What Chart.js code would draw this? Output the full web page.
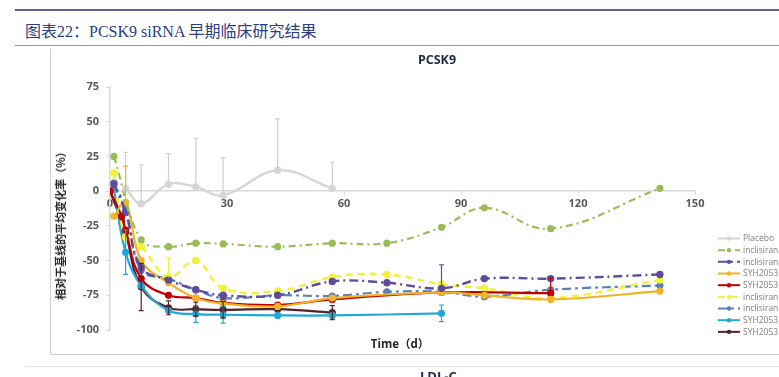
<!doctype html>
<html lang="zh">
<head>
<meta charset="utf-8"/>
<title>PCSK9 siRNA 早期临床研究结果</title>
<script src="https://cdn.jsdelivr.net/npm/chart.js@4/dist/chart.umd.min.js"></script>
<style>
*{box-sizing:border-box}
html,body{margin:0;width:779px;height:377px;overflow:hidden;background:#fff}
body{position:relative;font-family:"Open Sans","Noto Sans CJK SC",sans-serif}
.rule1{position:absolute;left:15px;right:0;top:9px;height:2px;background:#5c6296}
.rule2{position:absolute;left:15px;right:0;top:45px;height:1px;background:#8d92c9}
.head{position:absolute;left:25px;top:18px;font-size:16px;font-family:"Liberation Serif","Noto Sans CJK SC",serif;color:#2e3d80;white-space:nowrap}
.vline{position:absolute;left:50px;top:48px;width:1px;height:306px;background:#cfcfcf}
.hline{position:absolute;left:50px;right:0;top:354px;height:1px;background:#cfcfcf}
.hline2{position:absolute;left:25px;right:0;top:366px;height:1px;background:#e2e2e2}
#wrap{position:absolute;left:50px;top:48px;width:729px;height:306px}
.ctitle{position:absolute;left:387px;width:100px;top:51px;text-align:center;font-weight:bold;font-size:12.5px;color:#1f2a44}
.ytitle{position:absolute;left:60px;top:223px;transform:translate(-50%,-50%) rotate(-90deg);font-weight:bold;font-size:11px;color:#262626;white-space:nowrap;font-family:"Noto Sans CJK SC",sans-serif}
.xtitle{position:absolute;left:400px;top:343px;transform:translate(-50%,-50%);font-weight:bold;font-size:11.5px;color:#262626;white-space:nowrap;font-family:"Open Sans","Noto Sans CJK SC",sans-serif}
.next{position:absolute;left:420px;top:367px;font-weight:bold;font-size:13px;color:#1f2a44}
</style>
</head>
<body>
<div class="rule1"></div>
<div class="head">图表22：PCSK9 siRNA 早期临床研究结果</div>
<div class="rule2"></div>
<div class="vline"></div>
<div class="hline"></div>
<div class="hline2"></div>
<div id="wrap"><canvas id="c" width="729" height="306"></canvas></div>
<div class="ctitle">PCSK9</div>
<div class="ytitle">相对于基线的平均变化率（%）</div>
<div class="xtitle">Time（d）</div>
<div class="next">LDL-C</div>
<script>
// x ticks / y ticks
const xTicks = [0, 30, 60, 90, 120, 150];
const yTicks = [-100, -75, -50, -25, 0, 25, 50, 75];

// series (day, % change); err entries are [down, up]
const placeboDays = [4, 8, 15, 22, 29, 43, 57];
const placeboVals = [2, -9, 5, 3, -3, 15, 2];
const placeboErr  = [[0,26],[0,28],[0,22],[0,35],[0,27],[0,37],[0,19]];

const inclGreenDays = [1, 8, 15, 22, 29, 43, 57, 71, 85, 96, 113, 141];
const inclGreenVals = [25, -35, -40, -37.5, -38, -40, -37.5, -37.5, -26, -12, -27, 2];

const inclPurpleDays = [1, 4, 8, 15, 22, 29, 43, 57, 71, 85, 96, 113, 141];
const inclPurpleVals = [5, -15, -55, -64, -71, -75, -75, -65, -66, -70, -63, -63, -60];
const inclPurpleErr  = [null,null,null,null,null,null,null,null,null,[0,17],null,null,null];

const syhGoldDays = [1, 4, 8, 15, 22, 29, 43, 57, 85, 96, 113, 141];
const syhGoldVals = [-18, -8, -50, -66, -77, -81, -83, -77, -73, -75, -78, -72];
const syhGoldErr  = [null,[0,26],null,null,null,null,null,null,null,null,null,null];

const syhRedDays = [0, 3, 4, 8, 15, 22, 29, 43, 57, 85, 113];
const syhRedVals = [0, -18, -28, -63, -75, -77, -80.5, -82, -78, -73, -73.5];
const syhRedErr  = [null,null,null,null,null,null,null,null,null,null,[0,11]];

const inclYellowDays = [1, 4, 8, 15, 22, 29, 43, 57, 71, 85, 96, 113, 141];
const inclYellowVals = [13, -33, -40, -62, -50, -70, -72, -62, -60, -67, -70, -77, -64];
const inclYellowErr  = [null,null,null,[0,14],null,null,null,null,null,null,null,null,null];

const inclBlueDays = [1, 4, 8, 15, 22, 29, 43, 57, 71, 85, 96, 113, 141];
const inclBlueVals = [6, -12, -57, -63, -71, -77, -75, -75.5, -72.5, -72.5, -76, -71, -68];

const syhCyanDays = [1, 4, 8, 15, 22, 29, 43, 57, 85];
const syhCyanVals = [2, -44, -68, -86, -88.5, -89, -89.5, -89.5, -88];
const syhCyanErr  = [null,[16,16],null,null,[6,6],[6,6],null,null,[6,6]];

const syhBrownDays = [0, 3, 4, 8, 15, 22, 29, 43, 57];
const syhBrownVals = [0, -22, -30, -69, -84, -85, -85.5, -85, -87.5];
const syhBrownErr  = [null,null,null,[17,17],[5,5],[5,5],[6,6],null,[5,5]];

function pts(days, vals){ return days.map((d,i)=>({x:d, y:vals[i]})); }
function series(label, days, vals, color, dash, err, width){
  return {
    label, data: pts(days, vals), err: err || null,
    borderColor: color, backgroundColor: color,
    pointBackgroundColor: color, pointBorderColor: color,
    pointRadius: 2.5, pointHoverRadius: 2.5,
    borderWidth: width || 2.2, borderDash: dash || [],
    tension: 0.4, fill: false
  };
}

const datasets = [
  series('Placebo', placeboDays, placeboVals, '#d6d6d6', [], placeboErr, 2.4),
  series('inclisiran', inclGreenDays, inclGreenVals, '#9bbb59', [7,4,2,4]),
  series('inclisiran', inclPurpleDays, inclPurpleVals, '#5f4b9b', [9,4,2,4], inclPurpleErr, 2.4),
  series('SYH2053', syhGoldDays, syhGoldVals, '#f0b428', [], syhGoldErr),
  series('SYH2053', syhRedDays, syhRedVals, '#c00000', [], syhRedErr),
  series('inclisiran', inclYellowDays, inclYellowVals, '#f2f23c', [7,5], inclYellowErr, 2.5),
  series('inclisiran', inclBlueDays, inclBlueVals, '#5b7fb6', [9,4,3,4]),
  series('SYH2053', syhCyanDays, syhCyanVals, '#22a7d6', [], syhCyanErr),
  series('SYH2053', syhBrownDays, syhBrownVals, '#55222a', [], syhBrownErr)
];

const errorBars = {
  id: 'errorBars',
  afterDatasetsDraw(chart){
    const ctx = chart.ctx, xs = chart.scales.x, ys = chart.scales.y;
    chart.data.datasets.forEach(ds => {
      if (!ds.err) return;
      ctx.save();
      ctx.strokeStyle = ds.borderColor === '#d6d6d6' ? '#d0d0d0' : ds.borderColor;
      ctx.lineWidth = 1.2;
      ds.data.forEach((p, i) => {
        const e = ds.err[i];
        if (!e) return;
        const x = xs.getPixelForValue(p.x);
        const y1 = ys.getPixelForValue(p.y - e[0]);
        const y2 = ys.getPixelForValue(p.y + e[1]);
        ctx.beginPath();
        ctx.moveTo(x, y1); ctx.lineTo(x, y2);
        ctx.moveTo(x - 2.5, y2); ctx.lineTo(x + 2.5, y2);
        if (e[0]) { ctx.moveTo(x - 2.5, y1); ctx.lineTo(x + 2.5, y1); }
        ctx.stroke();
      });
      ctx.restore();
    });
  }
};

const sideLegend = {
  id: 'sideLegend',
  afterDraw(chart){
    const ctx = chart.ctx;
    chart.data.datasets.forEach((ds, i) => {
      const y = 190.5 + i * 11.67;
      ctx.save();
      ctx.strokeStyle = ds.borderColor;
      ctx.lineWidth = 2;
      ctx.setLineDash(ds.borderDash);
      ctx.beginPath(); ctx.moveTo(668, y); ctx.lineTo(690, y); ctx.stroke();
      ctx.setLineDash([]);
      ctx.fillStyle = ds.borderColor;
      ctx.beginPath(); ctx.arc(679, y, 2.2, 0, Math.PI * 2); ctx.fill();
      ctx.fillStyle = '#7f7f7f';
      ctx.font = '8.5px "Open Sans", sans-serif';
      ctx.textBaseline = 'middle';
      ctx.fillText(ds.label, 693, y + 0.5);
      ctx.restore();
    });
  }
};

Chart.defaults.font.family = '"Open Sans", "Noto Sans CJK SC", sans-serif';

new Chart(document.getElementById('c'), {
  type: 'line',
  data: { datasets },
  options: {
    responsive: false,
    animation: false,
    layout: { padding: { left: 0, right: 84, top: 39, bottom: 24 } },
    plugins: { legend: { display: false }, tooltip: { enabled: false } },
    scales: {
      x: {
        type: 'linear', position: { y: 0 },
        min: xTicks[0], max: xTicks[xTicks.length - 1],
        afterBuildTicks: s => { s.ticks = xTicks.map(v => ({ value: v })); },
        grid: { drawOnChartArea: false, tickLength: 4, color: '#d9d9d9' },
        border: { color: '#d9d9d9', width: 1.5 },
        ticks: { padding: 2, color: '#595959', font: { size: 11, weight: 'bold' } }
      },
      y: {
        position: 'left',
        min: yTicks[0], max: yTicks[yTicks.length - 1],
        afterBuildTicks: s => { s.ticks = yTicks.map(v => ({ value: v })); },
        afterFit: s => { s.width = 60; },
        grid: { drawOnChartArea: false, tickLength: 4, color: '#d9d9d9' },
        border: { color: '#d9d9d9', width: 1.5 },
        ticks: { padding: 7, color: '#595959', font: { size: 11, weight: 'bold' } }
      }
    }
  },
  plugins: [errorBars, sideLegend]
});
</script>
</body>
</html>
